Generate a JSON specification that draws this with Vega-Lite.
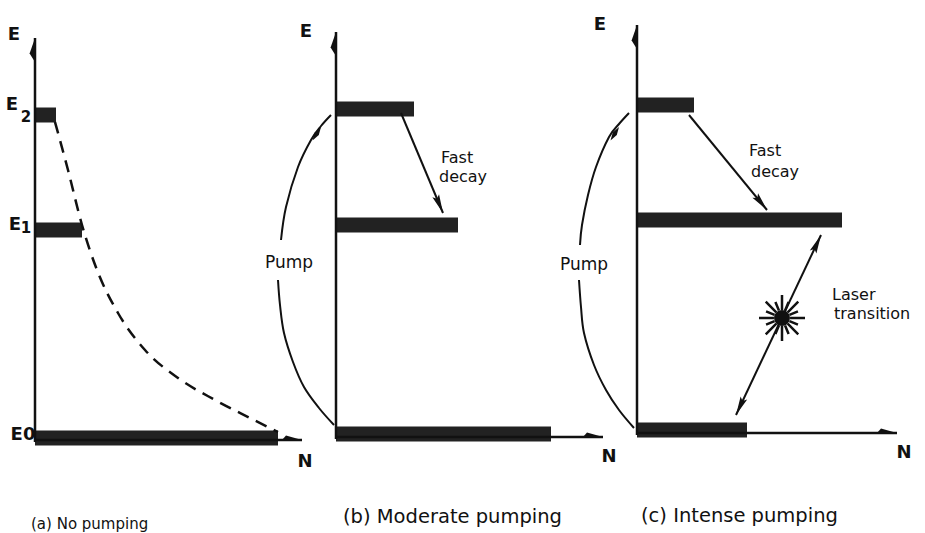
{
  "$schema": "https://vega.github.io/schema/vega-lite/v6.json",
  "padding": 0,
  "background": "white",
  "bounds": "flush",
  "data": {"values": [
    {"panel":"a","t":"axis","n":0,"e":-2,"n2":0,"e2":402},
    {"panel":"a","t":"axis","n":0,"e":0,"n2":267,"e2":0},
    {"panel":"a","t":"tip_E","n":0,"e":402},
    {"panel":"a","t":"tip_N","n":267,"e":0},
    {"panel":"a","t":"bar","level":"E2","n":21,"e":325},
    {"panel":"a","t":"bar","level":"E1","n":47,"e":210},
    {"panel":"a","t":"bar","level":"E0","n":243,"e":2},
    {"panel":"a","t":"curve","i":1,"n":20,"e":318},
    {"panel":"a","t":"curve","i":2,"n":33,"e":270},
    {"panel":"a","t":"curve","i":3,"n":47,"e":215},
    {"panel":"a","t":"curve","i":4,"n":62,"e":170},
    {"panel":"a","t":"curve","i":5,"n":83,"e":127},
    {"panel":"a","t":"curve","i":6,"n":110,"e":90},
    {"panel":"a","t":"curve","i":7,"n":143,"e":62},
    {"panel":"a","t":"curve","i":8,"n":180,"e":40},
    {"panel":"a","t":"curve","i":9,"n":215,"e":22},
    {"panel":"a","t":"curve","i":10,"n":243,"e":8},
    {"panel":"a","t":"lab_axis","label":"E","n":-21,"e":400},
    {"panel":"a","t":"lab_axis","label":"E","n":-23,"e":330},
    {"panel":"a","t":"lab_sub","label":"2","n":-9,"e":318},
    {"panel":"a","t":"lab_axis","label":"E","n":-20,"e":210},
    {"panel":"a","t":"lab_sub","label":"1","n":-9,"e":207},
    {"panel":"a","t":"lab_axis","label":"E0","n":-12,"e":0},
    {"panel":"a","t":"lab_axis","label":"N","n":270,"e":-27},
    {"panel":"a","t":"lab_cap_a","label":"(a) No pumping","n":-4,"e":-89},

    {"panel":"b","t":"axis","n":0,"e":1,"n2":0,"e2":408},
    {"panel":"b","t":"axis","n":0,"e":3,"n2":267,"e2":3},
    {"panel":"b","t":"tip_E","n":0,"e":408},
    {"panel":"b","t":"tip_N","n":267,"e":3},
    {"panel":"b","t":"bar","level":"E2","n":78,"e":331},
    {"panel":"b","t":"bar","level":"E1","n":122,"e":215},
    {"panel":"b","t":"bar","level":"E0","n":215,"e":6},
    {"panel":"b","t":"pump","id":"u","i":1,"n":-55,"e":200},
    {"panel":"b","t":"pump","id":"u","i":2,"n":-50,"e":233},
    {"panel":"b","t":"pump","id":"u","i":3,"n":-38,"e":273},
    {"panel":"b","t":"pump","id":"u","i":4,"n":-25,"e":300},
    {"panel":"b","t":"pump","id":"u","i":5,"n":-15,"e":314},
    {"panel":"b","t":"pump","id":"u","i":6,"n":-5,"e":325},
    {"panel":"b","t":"pump","id":"l","i":1,"n":-58,"e":160},
    {"panel":"b","t":"pump","id":"l","i":2,"n":-56,"e":135},
    {"panel":"b","t":"pump","id":"l","i":3,"n":-52,"e":107},
    {"panel":"b","t":"pump","id":"l","i":4,"n":-43,"e":78},
    {"panel":"b","t":"pump","id":"l","i":5,"n":-32,"e":53},
    {"panel":"b","t":"pump","id":"l","i":6,"n":-17,"e":32},
    {"panel":"b","t":"pump","id":"l","i":7,"n":-2,"e":15},
    {"panel":"b","t":"arrow","n":65,"e":327,"n2":107,"e2":227},
    {"panel":"b","t":"tip_pump","n":-15,"e":313},
    {"panel":"b","t":"tip_decay","n":107,"e":227},
    {"panel":"b","t":"lab_axis","label":"E","n":-30,"e":403},
    {"panel":"b","t":"lab_axis","label":"N","n":273,"e":-22},
    {"panel":"b","t":"lab_pump","label":"Pump","n":-47,"e":172},
    {"panel":"b","t":"lab_note","label":"Fast","n":105,"e":277},
    {"panel":"b","t":"lab_note","label":"decay","n":103,"e":258},
    {"panel":"b","t":"lab_cap","label":"(b) Moderate pumping","n":7,"e":-83},

    {"panel":"c","t":"axis","n":0,"e":5,"n2":0,"e2":415},
    {"panel":"c","t":"axis","n":0,"e":7,"n2":260,"e2":7},
    {"panel":"c","t":"tip_E","n":0,"e":415},
    {"panel":"c","t":"tip_N","n":260,"e":7},
    {"panel":"c","t":"bar","level":"E2","n":57,"e":335},
    {"panel":"c","t":"bar","level":"E1","n":205,"e":220},
    {"panel":"c","t":"bar","level":"E0","n":110,"e":10},
    {"panel":"c","t":"pump","id":"u","i":1,"n":-57,"e":195},
    {"panel":"c","t":"pump","id":"u","i":2,"n":-55,"e":215},
    {"panel":"c","t":"pump","id":"u","i":3,"n":-49,"e":245},
    {"panel":"c","t":"pump","id":"u","i":4,"n":-41,"e":273},
    {"panel":"c","t":"pump","id":"u","i":5,"n":-28,"e":303},
    {"panel":"c","t":"pump","id":"u","i":6,"n":-18,"e":316},
    {"panel":"c","t":"pump","id":"u","i":7,"n":-8,"e":327},
    {"panel":"c","t":"pump","id":"l","i":1,"n":-58,"e":160},
    {"panel":"c","t":"pump","id":"l","i":2,"n":-56,"e":133},
    {"panel":"c","t":"pump","id":"l","i":3,"n":-53,"e":107},
    {"panel":"c","t":"pump","id":"l","i":4,"n":-43,"e":75},
    {"panel":"c","t":"pump","id":"l","i":5,"n":-31,"e":50},
    {"panel":"c","t":"pump","id":"l","i":6,"n":-18,"e":30},
    {"panel":"c","t":"pump","id":"l","i":7,"n":-3,"e":12},
    {"panel":"c","t":"arrow","n":52,"e":325,"n2":130,"e2":230},
    {"panel":"c","t":"arrow","n":184,"e":205,"n2":99,"e2":25},
    {"panel":"c","t":"tip_pump","n":-18,"e":313},
    {"panel":"c","t":"tip_decay","n":130,"e":230},
    {"panel":"c","t":"tip_up","n":184,"e":205},
    {"panel":"c","t":"tip_down","n":99,"e":25},
    {"panel":"c","t":"star","n":145,"e":122},
    {"panel":"c","t":"lab_axis","label":"E","n":-37,"e":410},
    {"panel":"c","t":"lab_axis","label":"N","n":267,"e":-18},
    {"panel":"c","t":"lab_pump","label":"Pump","n":-53,"e":170},
    {"panel":"c","t":"lab_note","label":"Fast","n":112,"e":284},
    {"panel":"c","t":"lab_note","label":"decay","n":114,"e":263},
    {"panel":"c","t":"lab_note","label":"Laser","n":195,"e":140},
    {"panel":"c","t":"lab_note","label":"transition","n":197,"e":121},
    {"panel":"c","t":"lab_cap","label":"(c) Intense pumping","n":4,"e":-82}
  ]},
  "facet": {"column": {"field": "panel", "type": "nominal", "title": null, "header": {"labels": false}}},
  "spacing": 1,
  "spec": {
    "width": 300,
    "height": 533,
    "encoding": {
      "x": {"field": "n", "type": "quantitative", "scale": {"domain": [-35, 265], "nice": false, "zero": false}, "axis": null},
      "y": {"field": "e", "type": "quantitative", "scale": {"domain": [-93, 440], "nice": false, "zero": false}, "axis": null}
    },
    "layer": [
      {"transform": [{"filter": "datum.t === 'bar'"}],
       "mark": {"type": "rule", "stroke": "#222", "strokeWidth": 15, "strokeCap": "butt"},
       "encoding": {"x2": {"datum": 0}}},
      {"transform": [{"filter": "datum.t === 'axis'"}],
       "mark": {"type": "rule", "stroke": "#111", "strokeWidth": 2.5},
       "encoding": {"x2": {"field": "n2"}, "y2": {"field": "e2"}}},
      {"transform": [{"filter": "datum.t === 'arrow'"}],
       "mark": {"type": "rule", "stroke": "#111", "strokeWidth": 2},
       "encoding": {"x2": {"field": "n2"}, "y2": {"field": "e2"}}},
      {"transform": [{"filter": "datum.t === 'curve'"}],
       "mark": {"type": "line", "stroke": "#111", "strokeWidth": 2.5, "strokeDash": [12, 8], "interpolate": "monotone"},
       "encoding": {"order": {"field": "i", "type": "quantitative"}}},
      {"transform": [{"filter": "datum.t === 'pump'"}],
       "mark": {"type": "line", "stroke": "#111", "strokeWidth": 2, "interpolate": "cardinal"},
       "encoding": {"order": {"field": "i", "type": "quantitative"}, "detail": {"field": "id"}}},
      {"transform": [{"filter": "datum.t === 'tip_E'"}],
       "mark": {"type": "point", "shape": "M0,0L-0.45,1.3L0,2Z", "size": 576, "filled": true, "fill": "#111", "opacity": 1}},
      {"transform": [{"filter": "datum.t === 'tip_N'"}],
       "mark": {"type": "point", "shape": "M0,0L-1.6,-0.45L-2,0Z", "size": 400, "filled": true, "fill": "#111", "opacity": 1}},
      {"transform": [{"filter": "datum.t === 'tip_pump'"}],
       "mark": {"type": "point", "shape": "M0,0L0.3,1L0,2L-0.3,1Z", "size": 256, "angle": 32, "filled": true, "fill": "#111", "opacity": 1}},
      {"transform": [{"filter": "datum.t === 'tip_decay' && datum.panel === 'b'"}],
       "mark": {"type": "point", "shape": "M0,0L0.33,1.7L0,1.4L-0.33,1.7Z", "size": 484, "angle": 157, "filled": true, "fill": "#111", "opacity": 1}},
      {"transform": [{"filter": "datum.t === 'tip_decay' && datum.panel === 'c'"}],
       "mark": {"type": "point", "shape": "M0,0L0.33,1.7L0,1.4L-0.33,1.7Z", "size": 484, "angle": 141, "filled": true, "fill": "#111", "opacity": 1}},
      {"transform": [{"filter": "datum.t === 'tip_up'"}],
       "mark": {"type": "point", "shape": "M0,0L0.33,1.7L0,1.4L-0.33,1.7Z", "size": 484, "angle": 25, "filled": true, "fill": "#111", "opacity": 1}},
      {"transform": [{"filter": "datum.t === 'tip_down'"}],
       "mark": {"type": "point", "shape": "M0,0L0.33,1.7L0,1.4L-0.33,1.7Z", "size": 484, "angle": 205, "filled": true, "fill": "#111", "opacity": 1}},
      {"transform": [{"filter": "datum.t === 'star'"}],
       "mark": {"type": "point", "shape": "circle", "size": 254, "filled": true, "fill": "#111", "opacity": 1}},
      {"transform": [{"filter": "datum.t === 'star'"}],
       "mark": {"type": "point", "shape": "M0.35,0L1,0M0.323,0.134L0.693,0.287M0.247,0.247L0.707,0.707M0.134,0.323L0.287,0.693M0,0.35L0,1M-0.134,0.323L-0.287,0.693M-0.247,0.247L-0.707,0.707M-0.323,0.134L-0.693,0.287M-0.35,0L-1,0M-0.323,-0.134L-0.693,-0.287M-0.247,-0.247L-0.707,-0.707M-0.134,-0.323L-0.287,-0.693M0,-0.35L0,-1M0.134,-0.323L0.287,-0.693M0.247,-0.247L0.707,-0.707M0.323,-0.134L0.693,-0.287", "size": 2116, "filled": false, "stroke": "#111", "strokeWidth": 2.5, "opacity": 1}},
      {"transform": [{"filter": "datum.t === 'lab_axis'"}],
       "mark": {"type": "text", "fontSize": 18, "fontWeight": "bold", "align": "center", "baseline": "alphabetic", "color": "#111"},
       "encoding": {"text": {"field": "label"}}},
      {"transform": [{"filter": "datum.t === 'lab_sub'"}],
       "mark": {"type": "text", "fontSize": 15, "fontWeight": "bold", "align": "center", "baseline": "alphabetic", "color": "#111"},
       "encoding": {"text": {"field": "label"}}},
      {"transform": [{"filter": "datum.t === 'lab_pump'"}],
       "mark": {"type": "text", "fontSize": 17, "align": "center", "baseline": "alphabetic", "color": "#111"},
       "encoding": {"text": {"field": "label"}}},
      {"transform": [{"filter": "datum.t === 'lab_note'"}],
       "mark": {"type": "text", "fontSize": 16, "align": "left", "baseline": "alphabetic", "color": "#111"},
       "encoding": {"text": {"field": "label"}}},
      {"transform": [{"filter": "datum.t === 'lab_cap'"}],
       "mark": {"type": "text", "fontSize": 19.5, "align": "left", "baseline": "alphabetic", "color": "#111"},
       "encoding": {"text": {"field": "label"}}},
      {"transform": [{"filter": "datum.t === 'lab_cap_a'"}],
       "mark": {"type": "text", "fontSize": 15, "align": "left", "baseline": "alphabetic", "color": "#111"},
       "encoding": {"text": {"field": "label"}}}
    ]
  },
  "config": {"view": {"stroke": null}, "font": "DejaVu Sans", "mark": {"clip": false}}
}
